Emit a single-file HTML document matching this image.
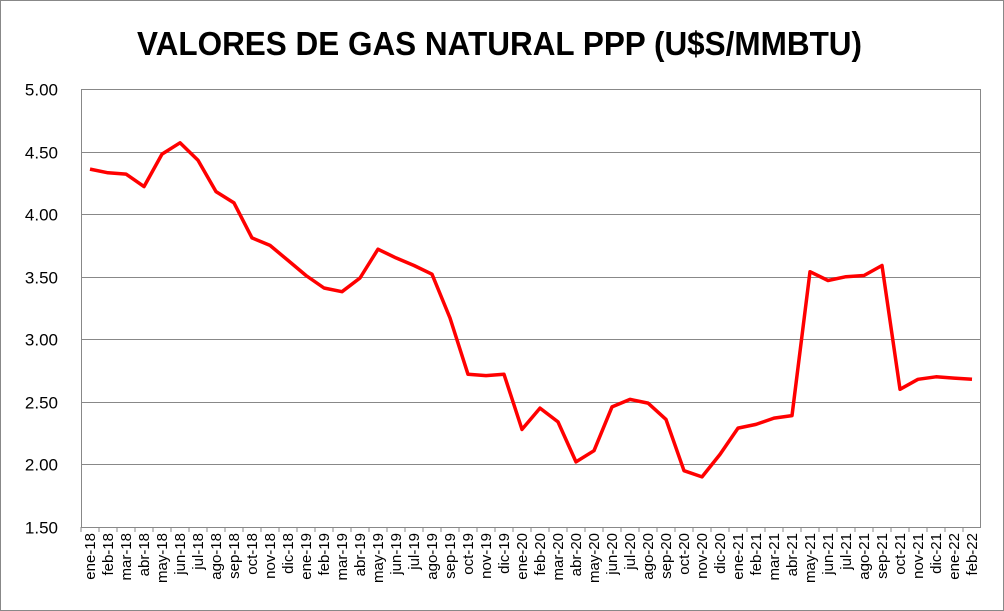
<!DOCTYPE html>
<html><head><meta charset="utf-8"><style>
html,body{margin:0;padding:0;background:#fff}
svg{display:block;font-family:"Liberation Sans",Arial,sans-serif}
</style></head><body>
<svg id="c" width="1004" height="611" xmlns="http://www.w3.org/2000/svg">
<rect x="0.5" y="0.5" width="1003" height="610" fill="#fff" stroke="#888"/>
<text x="137" y="55" font-size="33" font-weight="bold" fill="#000" textLength="725" lengthAdjust="spacingAndGlyphs">VALORES DE GAS NATURAL PPP (U$S/MMBTU)</text>
</svg>
<script>
const s=document.getElementById('c'),NS='http://www.w3.org/2000/svg';
function el(t,a,txt){const e=document.createElementNS(NS,t);for(const k in a)e.setAttribute(k,a[k]);if(txt)e.textContent=txt;s.appendChild(e);return e;}
const L=81,R=981,T=89,B=527;
const yv=v=>T+(5-v)*(B-T)/3.5;
for(let i=0;i<8;i++){const v=5-i*0.5,y=Math.round(yv(v))+0.5;
el('line',{x1:L,x2:R,y1:y,y2:y,stroke:'#888','stroke-width':1});
el('text',{x:L-23,y:y+6,'text-anchor':'end','font-size':17},v.toFixed(2));}
el('line',{x1:L+0.5,x2:L+0.5,y1:T,y2:B,stroke:'#888'});
el('line',{x1:R-0.5,x2:R-0.5,y1:T,y2:B,stroke:'#888'});
const m=['ene','feb','mar','abr','may','jun','jul','ago','sep','oct','nov','dic'];
const d=[4.36,4.33,4.32,4.22,4.48,4.57,4.43,4.18,4.09,3.81,3.75,3.63,3.51,3.41,3.38,3.49,3.72,3.65,3.59,3.52,3.17,2.72,2.71,2.72,2.28,2.45,2.34,2.02,2.11,2.46,2.52,2.49,2.36,1.95,1.90,2.08,2.29,2.32,2.37,2.39,3.54,3.47,3.50,3.51,3.59,2.60,2.68,2.70,2.69,2.68];
const w=(R-L)/50;let p='';
for(let i=0;i<50;i++){const x=L+w*(i+0.5);
el('line',{x1:L+w*i,x2:L+w*i,y1:B,y2:B+5,stroke:'#888'});
const lab=m[i%12]+'-'+(18+Math.floor(i/12));
el('text',{x:0,y:0,'font-size':15,'text-anchor':'end',transform:`translate(${x+5},${B+6}) rotate(-90)`},lab);
p+=(i?'L':'M')+x.toFixed(1)+','+yv(d[i]).toFixed(1);}
el('path',{d:p,fill:'none',stroke:'#f00','stroke-width':3.5,'stroke-linejoin':'round'});
</script>
</body></html>
